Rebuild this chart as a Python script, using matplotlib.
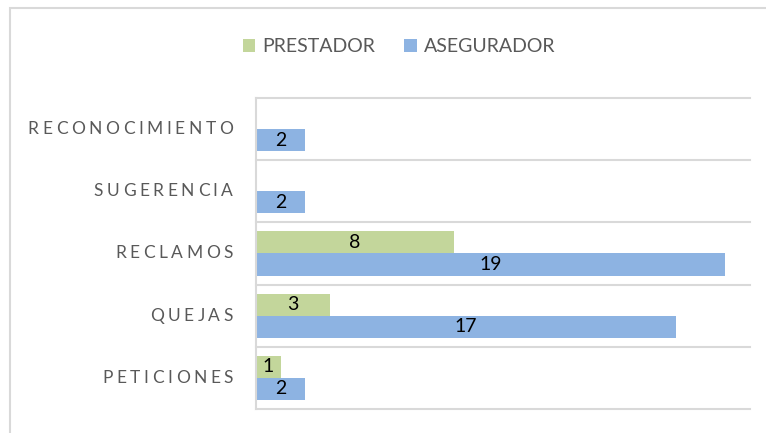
import matplotlib
matplotlib.use("Agg")
import matplotlib.pyplot as plt
from matplotlib.patches import Rectangle, Patch
from matplotlib.font_manager import FontProperties
from matplotlib.textpath import TextToPath
import numpy as np

categories = ["PETICIONES", "QUEJAS", "RECLAMOS", "SUGERENCIA", "RECONOCIMIENTO"]
prestador = [1, 3, 8, 0, 0]
asegurador = [2, 17, 19, 2, 2]
series_names = ["PRESTADOR", "ASEGURADOR"]

GREEN = "#C3D69B"
BLUE = "#8DB3E2"
GRID = "#D9D9D9"
TEXT = "#595959"
FAMILY = ["Lato", "DejaVu Sans"]

fig = plt.figure(figsize=(7.66, 4.33), dpi=100)
W, H = 766, 433
ax = fig.add_axes([256 / W, 1 - 409 / H, (750 - 256) / W, (409 - 98) / H])

y = np.arange(len(categories))
bh = 0.355
off = 0.177

for vals, color, sign in ((prestador, GREEN, 1), (asegurador, BLUE, -1)):
    for yi, v in zip(y, vals):
        if v <= 0:
            continue
        ax.barh(yi + sign * off, v, height=bh, color=color, edgecolor="none", zorder=2)
        ax.text(v / 2, yi + sign * off, str(v), ha="center", va="center",
                fontsize=14, family=FAMILY, color="black", zorder=3)

ax.set_xlim(0, 20)
ax.set_ylim(-0.5, len(categories) - 0.5)

# category separators
for b in np.arange(-0.5, len(categories), 1.0):
    ax.axhline(b, color=GRID, lw=1.5, zorder=1, clip_on=False)

for s in ("top", "right", "bottom"):
    ax.spines[s].set_visible(False)
ax.spines["left"].set_color(GRID)
ax.spines["left"].set_linewidth(1.5)
ax.set_xticks([])
ax.set_yticks([])

# letter-spaced category labels
lab_prop = FontProperties(family=FAMILY, size=12.5)
ttp = TextToPath()
tracking = 2.6  # points between letters
pad = 16.5      # points from axis line to label end
for yi, name in zip(y, categories):
    widths = [ttp.get_text_width_height_descent(ch, lab_prop, ismath=False)[0] for ch in name]
    total = sum(widths) + tracking * (len(name) - 1)
    xoff = -pad - total
    for ch, w in zip(name, widths):
        ax.annotate(ch, xy=(0, yi), xycoords=("axes fraction", "data"),
                    xytext=(xoff, 0), textcoords="offset points",
                    ha="left", va="center", fontproperties=lab_prop, color=TEXT,
                    annotation_clip=False)
        xoff += w + tracking

# legend
handles = [Patch(facecolor=GREEN, edgecolor="none"), Patch(facecolor=BLUE, edgecolor="none")]
fig.legend(handles, series_names, loc="center", bbox_to_anchor=(399 / W, 1 - 47 / H),
           ncol=2, frameon=False, prop=FontProperties(family=FAMILY, size=14),
           labelcolor=TEXT, handlelength=0.64, handleheight=0.64, handletextpad=0.36,
           columnspacing=1.5, borderpad=0, borderaxespad=0)

# chart frame
fig.patches.append(Rectangle((10 / W, -0.1), 1.2, 1 - 8 / H + 0.1, transform=fig.transFigure,
                             fill=False, edgecolor=GRID, lw=1.5, zorder=0))

fig.savefig("out.png", dpi=100, facecolor="white")
